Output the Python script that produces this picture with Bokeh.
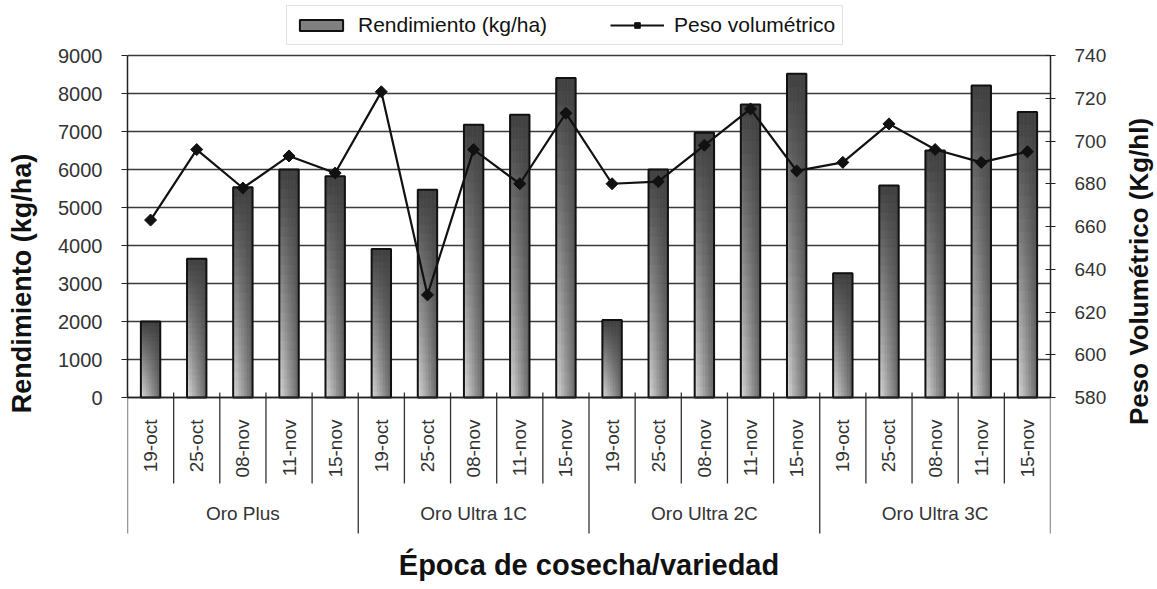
import math
from bokeh.plotting import figure
from bokeh.layouts import row
from bokeh.models import (FactorRange, Range1d, LinearAxis, FixedTicker, Legend,
                          LegendItem, ColumnDataSource, Title, Label)
from bokeh.transform import dodge
from bokeh.embed import file_html
from bokeh.resources import INLINE

# ---------------- data ----------------
groups = ["Oro Plus", "Oro Ultra 1C", "Oro Ultra 2C", "Oro Ultra 3C"]
dates = ["19-oct", "25-oct", "08-nov", "11-nov", "15-nov"]
rendimiento = [2000, 3650, 5530, 6000, 5820,
               3910, 5470, 7180, 7440, 8410,
               2040, 6000, 6970, 7710, 8520,
               3270, 5580, 6500, 8210, 7510]
peso = [663, 696, 678, 693, 685,
        723, 628, 696, 680, 713,
        680, 681, 698, 715, 686,
        690, 708, 696, 690, 695]
left_ticks = [0, 1000, 2000, 3000, 4000, 5000, 6000, 7000, 8000, 9000]
right_ticks = [580, 600, 620, 640, 660, 680, 700, 720, 740]
y_title = "Rendimiento (kg/ha)"
y2_title = "Peso Volumétrico (Kg/hl)"
x_title = "Época de cosecha/variedad"

factors = [(g, d) for g in groups for d in dates]

# ---------------- geometry (page px) ----------------
PW, PH = 1157, 589
LW = 44            # left title strip width
RX = 1115          # x where right title strip starts
PLOT_L, PLOT_R = 127, 1050
TOPV, ZERO = 55, 397   # y of top value line and of value origin
FTOP, FBOT = 0, 541    # frame top / bottom

y_min, y_max = left_ticks[0], left_ticks[-1]
ppu = (ZERO - TOPV) / (y_max - y_min)
y_start = y_min - (FBOT - ZERO) / ppu
y_end = y_max + (TOPV - FTOP) / ppu
r_min, r_max = right_ticks[0], right_ticks[-1]
rppu = (ZERO - TOPV) / (r_max - r_min)
r_start = r_min - (FBOT - ZERO) / rppu
r_end = r_max + (TOPV - FTOP) / rppu

FONT = "Liberation Sans"
TXT = "#333333"

xr = FactorRange(factors=factors, factor_padding=0, group_padding=0,
                 subgroup_padding=0, range_padding=0)
p = figure(width=RX - LW, height=PH, x_range=xr, y_range=Range1d(y_start, y_end),
           output_backend="svg", toolbar_location=None,
           min_border_left=PLOT_L - LW, min_border_right=RX - PLOT_R,
           min_border_top=FTOP, min_border_bottom=PH - FBOT)
p.outline_line_color = None
p.background_fill_color = "white"
p.border_fill_color = "white"
p.xgrid.visible = False
p.ygrid.ticker = FixedTicker(ticks=left_ticks)
p.ygrid.grid_line_color = "#3a3a3a"
p.ygrid.grid_line_width = 1.3

# ---------------- category axis (at value 0) ----------------
xa = p.xaxis[0]
xa.fixed_location = 0
xa.major_tick_line_color = None
xa.major_tick_in = 0
xa.major_tick_out = 0
xa.minor_tick_line_color = None
xa.major_label_orientation = math.pi / 2
xa.major_label_standoff = 22
xa.major_label_text_font = FONT
xa.major_label_text_font_size = "19px"
xa.major_label_text_color = TXT
xa.group_text_font = FONT
xa.group_text_font_size = "19px"
xa.group_text_font_style = "normal"
xa.group_text_color = TXT
xa.separator_line_color = None
xa.axis_line_color = "#222222"
xa.axis_line_width = 1.5

# ---------------- left axis ----------------
ya = p.yaxis[0]
ya.bounds = (y_min, y_max)
ya.ticker = FixedTicker(ticks=left_ticks)
ya.major_tick_out = 6
ya.major_tick_in = 0
ya.minor_tick_line_color = None
ya.major_label_standoff = 19
ya.major_label_text_font = FONT
ya.major_label_text_font_size = "20px"
ya.major_label_text_color = TXT
ya.axis_line_color = "#222222"
ya.axis_line_width = 1.5
ya.major_tick_line_color = "#222222"

# ---------------- right axis ----------------
p.extra_y_ranges = {"peso": Range1d(r_start, r_end)}
ra = LinearAxis(y_range_name="peso", bounds=(r_min, r_max),
                ticker=FixedTicker(ticks=right_ticks))
ra.major_tick_in = 5
ra.major_tick_out = 5
ra.minor_tick_line_color = None
ra.major_label_standoff = 19
ra.major_label_text_font = FONT
ra.major_label_text_font_size = "19px"
ra.major_label_text_color = TXT
ra.axis_line_color = "#222222"
ra.axis_line_width = 1.5
ra.major_tick_line_color = "#222222"
p.add_layout(ra, "right")

# ---------------- x title ----------------
xtitle = Title(text=x_title, align="center", text_font=FONT,
               text_font_size="29px", text_font_style="bold", text_color="#111111",
               standoff=10)
p.add_layout(xtitle, "below")

# ---------------- separators below the category axis ----------------
n_sub = len(dates)
sep_x, sep_y0, sep_y1 = [], [], []
for i in range(len(factors) + 1):
    sep_x.append(i)
    sep_y0.append(5 / ppu)
    sep_y1.append(-(136 if i % n_sub == 0 else 86) / ppu)
p.segment(x0="x", y0="y0", x1="x", y1="y1", line_color="#333333", line_width=1.3,
          source=ColumnDataSource(dict(x=sep_x, y0=sep_y0, y1=sep_y1)))

# ---------------- gradient bars ----------------
BAR_W = 0.42
K, M = 7, 24


def shade(u, v):
    t = (1 - v) * (1 - 0.75 * u)
    g = int(round(64 + 158 * t))
    return "#%02x%02x%02x" % (g, g, g)


grad_renderers = []
for k in range(K):
    u = (k + 0.5) / K
    off = -BAR_W / 2 + (k + 0.5) * BAR_W / K
    xs, bots, tops, cols = [], [], [], []
    for f, val in zip(factors, rendimiento):
        for j in range(M):
            xs.append(f)
            bots.append(val * j / M)
            tops.append(val * (j + 1) / M)
            cols.append(shade(u, (j + 0.5) / M))
    src = ColumnDataSource(dict(x=xs, bottom=bots, top=tops, color=cols))
    r = p.vbar(x=dodge("x", off, range=xr), width=BAR_W / K, bottom="bottom", top="top",
               fill_color="color", line_color="color", line_width=0.8, source=src)
    grad_renderers.append(r)

bar_src = ColumnDataSource(dict(x=factors, top=rendimiento))
outline = p.vbar(x="x", top="top", bottom=0, width=BAR_W, fill_color=None,
                 line_color="#111111", line_width=2, source=bar_src)

# ---------------- line series ----------------
line_src = ColumnDataSource(dict(x=factors, y=peso))
ln = p.line(x="x", y="y", y_range_name="peso", line_color="#111111", line_width=2.2,
            source=line_src)
mk = p.scatter(x="x", y="y", y_range_name="peso", marker="square", angle=math.pi / 4,
               size=8.5, fill_color="#111111", line_color="#111111", source=line_src)

# ---------------- legend (inside the frame, above the top value line) ----------------
legend = Legend(items=[
    LegendItem(label="Rendimiento (kg/ha)", renderers=[grad_renderers[K // 2], outline],
               index=8),
    LegendItem(label="Peso volumétrico", renderers=[ln, mk]),
], orientation="horizontal", location=(159, FBOT - 45))
legend.label_text_font = FONT
legend.label_text_font_size = "21px"
legend.label_text_color = "#111111"
legend.glyph_width = 54
legend.glyph_height = 14
legend.label_standoff = 10
legend.spacing = 63
legend.padding = 7
legend.margin = 0
legend.border_line_color = "#c8c8c8"
legend.border_line_width = 1.5
legend.background_fill_color = "white"
legend.background_fill_alpha = 1.0
p.add_layout(legend, "center")


# ---------------- axis title strips (same vertical frame as the chart) ----------------
def title_strip(x0, x1, text, cx, cy, size):
    f = figure(width=x1 - x0, height=PH, x_range=Range1d(x0, x1),
               y_range=Range1d(FBOT, FTOP),
               output_backend="svg", toolbar_location=None,
               min_border_left=0, min_border_right=0,
               min_border_top=FTOP, min_border_bottom=PH - FBOT)
    f.axis.visible = False
    f.grid.visible = False
    f.outline_line_color = None
    f.background_fill_color = "white"
    f.border_fill_color = "white"
    f.add_layout(Label(x=cx, y=cy, text=text, angle=math.pi / 2, text_align="center",
                       text_baseline="middle", text_font=FONT, text_font_size=size,
                       text_font_style="bold", text_color="#111111"))
    return f


pl = title_strip(0, LW, y_title, 21, 283, "27px")
pr = title_strip(RX, PW, y2_title, 1138, 271, "26px")

layout = row(pl, p, pr)
open("out.html", "w").write(file_html(layout, INLINE))
